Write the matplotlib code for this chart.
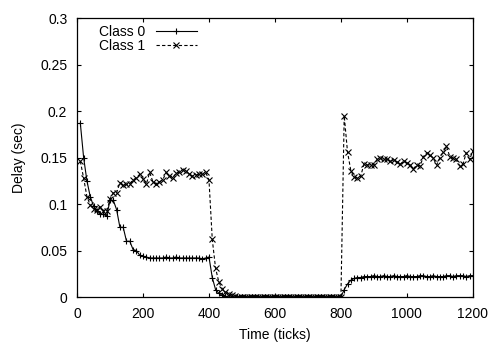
import numpy as np
import matplotlib
matplotlib.use("Agg")
import matplotlib.pyplot as plt

plt.rcParams['font.family'] = ['Liberation Sans', 'DejaVu Sans']
plt.rcParams['font.size'] = 10

# sample times (ticks)
ticks = np.arange(10, 1201, 10)

# class 0 delay (sec)
class0_start = [0.187, 0.150, 0.125, 0.108, 0.098, 0.092, 0.089, 0.089, 0.087, 0.104,
                0.104, 0.094, 0.075, 0.075, 0.060, 0.060, 0.051, 0.050, 0.045, 0.044,
                0.043, 0.042, 0.042, 0.042, 0.042, 0.042, 0.043, 0.042, 0.042, 0.043,
                0.042, 0.042, 0.042, 0.042, 0.042, 0.042, 0.042, 0.041, 0.042, 0.043,
                0.021, 0.008, 0.004, 0.002, 0.001]
class0_idle = [0.0] * 35
class0_end = [0.008, 0.014, 0.018, 0.020, 0.021, 0.021, 0.022, 0.022, 0.022, 0.023,
              0.022, 0.022, 0.023, 0.022, 0.022, 0.023, 0.022, 0.022, 0.022, 0.023,
              0.022, 0.022, 0.022, 0.023, 0.023, 0.022, 0.022, 0.023, 0.022, 0.022,
              0.022, 0.023, 0.023, 0.022, 0.023, 0.023, 0.023, 0.022, 0.023, 0.023]
class0 = class0_start + class0_idle + class0_end

# class 1 delay (sec)
class1_start = [0.146, 0.128, 0.108, 0.099, 0.095, 0.094, 0.097, 0.093, 0.092, 0.105,
                0.112, 0.112, 0.123, 0.120, 0.121, 0.122, 0.126, 0.128, 0.132, 0.127,
                0.121, 0.134, 0.124, 0.122, 0.124, 0.126, 0.134, 0.130, 0.128, 0.133,
                0.134, 0.137, 0.136, 0.132, 0.130, 0.131, 0.132, 0.132, 0.134, 0.126,
                0.062, 0.031, 0.016, 0.009, 0.005, 0.003, 0.002, 0.001]
class1_idle = [0.0] * 32
class1_end = [0.195, 0.156, 0.136, 0.129, 0.128, 0.130, 0.143, 0.142, 0.142, 0.142,
              0.148, 0.149, 0.148, 0.148, 0.146, 0.147, 0.145, 0.143, 0.146, 0.144,
              0.142, 0.138, 0.142, 0.141, 0.151, 0.155, 0.153, 0.149, 0.142, 0.150,
              0.156, 0.162, 0.151, 0.149, 0.148, 0.141, 0.143, 0.155, 0.148, 0.157]
class1 = class1_start + class1_idle + class1_end

x_ticks = [0, 200, 400, 600, 800, 1000, 1200]
y_ticks = [0, 0.05, 0.1, 0.15, 0.2, 0.25, 0.3]
y_tick_labels = ['0', '0.05', '0.1', '0.15', '0.2', '0.25', '0.3']

fig = plt.figure(figsize=(4.89, 3.43), dpi=100)
ax = fig.add_axes([0.1575, 0.134, 0.8095, 0.8135])

ax.plot(ticks, class0, color='black', lw=0.8, marker='+', ms=4.5, mew=0.8,
        label='Class 0')
ax.plot(ticks, class1, color='black', lw=0.8, ls=(0, (3, 2)), marker='x', ms=3.8,
        mew=0.8, label='Class 1')

ax.set_xlim(0, 1200)
ax.set_ylim(0, 0.3)
ax.set_xticks(x_ticks)
ax.set_yticks(y_ticks)
ax.set_yticklabels(y_tick_labels)
ax.tick_params(direction='in', length=3, width=0.8, top=True, right=True, pad=7)
for sp in ax.spines.values():
    sp.set_linewidth(0.9)

ax.set_xlabel('Time (ticks)', labelpad=5)
ax.set_ylabel('Delay (sec)', labelpad=10)

ax.legend(loc='upper left', bbox_to_anchor=(0.05, 0.982), frameon=False,
          markerfirst=False, handlelength=2.9, handletextpad=0.8,
          labelspacing=0.0, borderpad=0.15, borderaxespad=0)

fig.savefig('out.png', dpi=100)
